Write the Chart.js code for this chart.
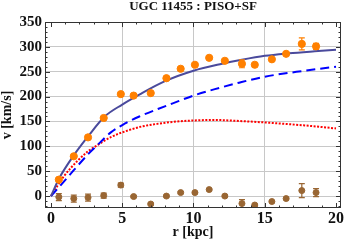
<!DOCTYPE html>
<html>
<head>
<meta charset="utf-8">
<script src="https://cdn.jsdelivr.net/npm/chart.js@4"></script>
<style>
  html, body { margin: 0; padding: 0; background: #fff; }
  canvas { display: block; }
</style>
</head>
<body>
<canvas id="rotCurve" width="346" height="244"></canvas>
<script>
// observed rotation curve
const radii = [0.55, 1.6, 2.6, 3.7, 4.9, 5.8, 7.0, 8.1, 9.1, 10.1, 11.1, 12.2, 13.4, 14.3, 15.5, 16.5, 17.6, 18.6];
const vObs = [33, 80, 118, 157, 205, 202, 207, 237, 256, 264, 278, 272, 266, 264, 275, 286, 306, 301];
const vObsErr = [2, 2, 2, 2, 2, 2, 2, 2, 2, 2, 2, 2, 8, 2, 2, 2, 12, 6];
const residuals = [-2, -5, -3, 1, 22, -1, -16, 0, 7, 7, 13, 0, -15, -18, -11, -5, 11, 7];
const residErr = [7, 7, 7, 5, 4, 2, 2, 2, 2, 2, 2, 2, 8, 2, 2, 2, 14, 8];

// model curves
const rTotal = [0, 0.56, 1.6, 2.6, 3.77, 5, 6.2, 8, 10, 12, 13.2, 15, 16.7, 18.5, 20];
const vTotal = [0, 35, 82, 120, 160, 184, 204, 231, 252, 266, 273, 282, 287, 291, 294];
const rHalo = [0, 0.75, 1.6, 2.6, 3.1, 4.2, 5.2, 6.2, 7.5, 8.5, 10, 11.5, 13.2, 15, 17.8, 20];
const vHalo = [0, 24, 52, 84, 98, 128, 146, 160, 175, 186, 202, 215, 228, 240, 252, 260];
const rStars = [0, 0.86, 1.9, 2.6, 3.07, 4.23, 5.4, 6.4, 8.5, 10, 11.5, 13.2, 15, 17.8, 20];
const vStars = [0, 38, 72, 90, 99, 119, 132, 140, 149, 152, 153, 151, 148, 142, 136];

const xTicks = [0, 5, 10, 15, 20];
const yTicks = [0, 50, 100, 150, 200, 250, 300, 350];

const pts = (xs, ys) => xs.map((r, i) => ({x: r, y: ys[i]}));

const serif = 'Liberation Serif';

const errorBars = {
  id: 'errorBars',
  afterDatasetsDraw(chart) {
    const {ctx, scales: {x, y}} = chart;
    ctx.save();
    ctx.lineWidth = 1.2;
    [[vObs, vObsErr, '#ff8000'], [residuals, residErr, '#996633']].forEach(([vals, errs, col]) => {
      ctx.strokeStyle = col;
      ctx.beginPath();
      radii.forEach((r, i) => {
        const px = x.getPixelForValue(r);
        const top = y.getPixelForValue(vals[i] + errs[i]);
        const bot = y.getPixelForValue(vals[i] - errs[i]);
        ctx.moveTo(px, top); ctx.lineTo(px, bot);
        ctx.moveTo(px - 3, top); ctx.lineTo(px + 3, top);
        ctx.moveTo(px - 3, bot); ctx.lineTo(px + 3, bot);
      });
      ctx.stroke();
    });
    ctx.restore();
  }
};

const frame = {
  id: 'frame',
  afterDraw(chart) {
    const {ctx, chartArea: a, scales: {x, y}} = chart;
    ctx.save();
    ctx.strokeStyle = '#333';
    ctx.lineWidth = 1;
    ctx.strokeRect(a.left + 0.5, a.top + 0.5, a.right - a.left - 1, a.bottom - a.top - 1);
    ctx.beginPath();
    for (let v = 0; v <= 20; v++) {
      const px = Math.round(x.getPixelForValue(v)) + 0.5;
      const len = v % 5 === 0 ? 5 : 2.5;
      ctx.moveTo(px, a.bottom); ctx.lineTo(px, a.bottom - len);
      ctx.moveTo(px, a.top); ctx.lineTo(px, a.top + len);
    }
    for (let v = -20; v <= 350; v += 10) {
      const py = Math.round(y.getPixelForValue(v)) + 0.5;
      const len = v % 50 === 0 ? 5 : 2.5;
      ctx.moveTo(a.left, py); ctx.lineTo(a.left + len, py);
      ctx.moveTo(a.right, py); ctx.lineTo(a.right - len, py);
    }
    ctx.stroke();
    ctx.restore();
  }
};

const ctx = document.getElementById('rotCurve').getContext('2d');

new Chart(ctx, {
  type: 'scatter',
  data: {
    datasets: [
      {
        label: 'observed',
        data: pts(radii, vObs),
        backgroundColor: '#ff8000',
        borderColor: '#ff8000',
        pointRadius: 3.6,
        showLine: false
      },
      {
        label: 'residuals',
        data: pts(radii, residuals),
        backgroundColor: '#996633',
        borderColor: '#996633',
        pointRadius: 3,
        showLine: false
      },
      {
        label: 'total',
        data: pts(rTotal, vTotal),
        showLine: true,
        borderColor: '#4a4a9c',
        borderWidth: 2,
        pointRadius: 0,
        cubicInterpolationMode: 'monotone'
      },
      {
        label: 'halo',
        data: pts(rHalo, vHalo),
        showLine: true,
        borderColor: '#0000ff',
        borderWidth: 2,
        borderDash: [9, 5],
        pointRadius: 0,
        cubicInterpolationMode: 'monotone'
      },
      {
        label: 'stars',
        data: pts(rStars, vStars),
        showLine: true,
        borderColor: '#ff0000',
        borderWidth: 2,
        borderDash: [2, 1.5],
        pointRadius: 0,
        cubicInterpolationMode: 'monotone'
      }
    ]
  },
  options: {
    responsive: false,
    animation: false,
    devicePixelRatio: 1,
    layout: { padding: { left: 0, right: 3, top: 0, bottom: 0 } },
    plugins: {
      legend: { display: false },
      tooltip: { enabled: false },
      title: {
        display: true,
        fullSize: false,
        text: 'UGC 11455 : PISO+SF',
        color: '#111',
        font: { family: serif, size: 13, weight: 'bold', lineHeight: 1 },
        padding: { top: 0, bottom: 9 }
      }
    },
    scales: {
      x: {
        type: 'linear',
        min: -0.42,
        max: 20.35,
        afterBuildTicks: s => { s.ticks = xTicks.map(v => ({value: v})); },
        afterFit: s => { s.height = 36; s.paddingLeft = 0; s.paddingRight = 0; },
        border: { display: false },
        grid: {
          drawTicks: false,
          color: c => (c.tick && c.tick.value > 0 && c.tick.value < 20) ? '#c8c8c8' : 'rgba(0,0,0,0)'
        },
        ticks: {
          autoSkip: false,
          maxRotation: 0,
          padding: 1,
          color: '#111',
          font: { family: serif, size: 16, weight: 'bold' }
        },
        title: {
          display: true,
          text: 'r [kpc]',
          color: '#111',
          font: { family: serif, size: 14, weight: 'bold' },
          padding: { top: 0, bottom: 3 }
        }
      },
      y: {
        type: 'linear',
        min: -24,
        max: 350,
        afterBuildTicks: s => { s.ticks = yTicks.map(v => ({value: v})); },
        afterFit: s => { s.width = 45; s.paddingTop = 0; s.paddingBottom = 0; },
        border: { display: false },
        grid: {
          drawTicks: false,
          color: c => (c.tick && c.tick.value < 350) ? '#c8c8c8' : 'rgba(0,0,0,0)'
        },
        ticks: {
          padding: 3,
          color: '#111',
          font: { family: serif, size: 15, weight: 'bold' }
        },
        title: {
          display: true,
          text: 'v [km/s]',
          color: '#111',
          font: { family: serif, size: 14, weight: 'bold', lineHeight: 1 },
          padding: { top: 0, bottom: 0 }
        }
      }
    }
  },
  plugins: [errorBars, frame]
});
</script>
</body>
</html>
